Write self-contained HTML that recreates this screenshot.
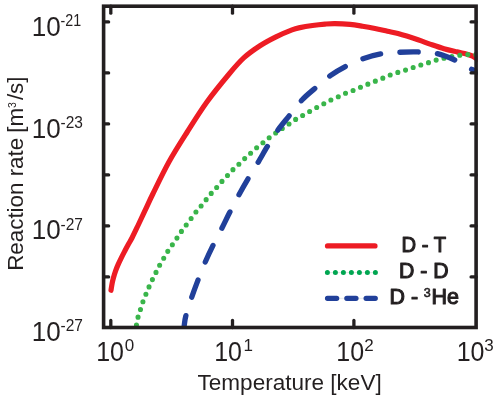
<!DOCTYPE html>
<html><head><meta charset="utf-8"><title>Reaction rate</title>
<style>html,body{margin:0;padding:0;background:#fff}body{width:498px;height:399px;overflow:hidden;font-family:"Liberation Sans",sans-serif}</style></head>
<body>
<svg width="498" height="399" viewBox="0 0 498 399" style="display:block;will-change:transform">
<rect width="100%" height="100%" fill="#fff"/>
<defs><clipPath id="c"><rect x="103.6" y="6.2" width="374.0" height="321.3"/></clipPath></defs>
<g clip-path="url(#c)" fill="none" stroke-linecap="round" stroke-linejoin="round">
<path d="M111.00 290.30 C111.20 289.08 111.77 285.18 112.20 283.00 C112.63 280.82 113.03 279.23 113.60 277.20 C114.17 275.17 114.85 272.90 115.60 270.80 C116.35 268.70 117.15 266.77 118.10 264.60 C119.05 262.43 120.18 260.07 121.30 257.80 C122.42 255.53 123.62 253.25 124.80 251.00 C125.98 248.75 127.17 246.55 128.40 244.30 C129.63 242.05 130.60 240.63 132.20 237.50 C133.80 234.37 135.83 230.05 138.00 225.50 C140.17 220.95 142.73 215.45 145.20 210.20 C147.67 204.95 148.85 202.03 152.80 194.00 C156.75 185.97 163.17 172.33 168.90 162.00 C174.63 151.67 180.87 142.00 187.20 132.00 C193.53 122.00 199.92 111.67 206.90 102.00 C213.88 92.33 222.92 81.38 229.10 74.00 C235.28 66.62 238.85 62.40 244.00 57.70 C249.15 53.00 254.67 49.27 260.00 45.80 C265.33 42.33 270.67 39.55 276.00 36.90 C281.33 34.25 288.00 31.45 292.00 29.90 C296.00 28.35 296.58 28.33 300.00 27.60 C303.42 26.87 308.33 26.08 312.50 25.50 C316.67 24.92 321.25 24.42 325.00 24.10 C328.75 23.78 330.83 23.55 335.00 23.60 C339.17 23.65 345.42 23.97 350.00 24.40 C354.58 24.83 358.33 25.52 362.50 26.20 C366.67 26.88 370.83 27.65 375.00 28.50 C379.17 29.35 383.67 30.45 387.50 31.30 C391.33 32.15 392.92 32.18 398.00 33.60 C403.08 35.02 412.67 38.05 418.00 39.80 C423.33 41.55 425.67 42.62 430.00 44.10 C434.33 45.58 439.50 47.40 444.00 48.70 C448.50 50.00 453.28 51.02 457.00 51.90 C460.72 52.78 463.97 53.40 466.30 54.00 C468.63 54.60 469.65 54.97 471.00 55.50 C472.35 56.03 473.23 56.53 474.40 57.20 C475.57 57.87 477.40 59.12 478.00 59.50" stroke="#ed1c24" stroke-width="5.2"/>
<path id="gr" d="M135.30 333.00 C135.52 331.52 136.12 326.85 136.60 324.10 C137.08 321.35 137.53 319.00 138.20 316.50 C138.87 314.00 139.77 311.68 140.60 309.10 C141.43 306.52 142.27 303.58 143.20 301.00 C144.13 298.42 145.18 296.05 146.20 293.60 C147.22 291.15 148.20 288.77 149.30 286.30 C150.40 283.83 151.63 281.22 152.80 278.80 C153.97 276.38 155.10 274.18 156.30 271.80 C157.50 269.42 158.72 266.83 160.00 264.50 C161.28 262.17 162.67 260.05 164.00 257.80 C165.33 255.55 166.58 253.22 168.00 251.00 C169.42 248.78 171.00 246.67 172.50 244.50 C174.00 242.33 175.50 240.20 177.00 238.00 C178.50 235.80 179.95 233.50 181.50 231.30 C183.05 229.10 184.67 226.97 186.30 224.80 C187.93 222.63 189.63 220.50 191.30 218.30 C192.97 216.10 194.63 213.70 196.30 211.60 C197.97 209.50 199.62 207.75 201.30 205.70 C202.98 203.65 204.72 201.38 206.40 199.30 C208.08 197.22 209.63 195.23 211.40 193.20 C213.17 191.17 215.15 189.17 217.00 187.10 C218.85 185.03 220.67 182.82 222.50 180.80 C224.33 178.78 226.20 176.92 228.00 175.00 C229.80 173.08 231.42 171.17 233.30 169.30 C235.18 167.43 237.35 165.63 239.30 163.80 C241.25 161.97 243.08 160.10 245.00 158.30 C246.92 156.50 248.80 154.80 250.80 153.00 C252.80 151.20 254.92 149.25 257.00 147.50 C259.08 145.75 261.22 144.17 263.30 142.50 C265.38 140.83 267.33 139.17 269.50 137.50 C271.67 135.83 274.13 134.03 276.30 132.50 C278.47 130.97 280.33 129.75 282.50 128.30 C284.67 126.85 287.08 125.30 289.30 123.80 C291.52 122.30 293.60 120.68 295.80 119.30 C298.00 117.92 300.22 116.80 302.50 115.50 C304.78 114.20 307.12 112.83 309.50 111.50 C311.88 110.17 314.42 108.78 316.80 107.50 C319.18 106.22 321.47 105.05 323.80 103.80 C326.13 102.55 328.38 101.17 330.80 100.00 C333.22 98.83 335.85 97.92 338.30 96.80 C340.75 95.68 343.05 94.35 345.50 93.30 C347.95 92.25 350.50 91.50 353.00 90.50 C355.50 89.50 358.08 88.33 360.50 87.30 C362.92 86.27 365.08 85.30 367.50 84.30 C369.92 83.30 372.50 82.30 375.00 81.30 C377.50 80.30 380.00 79.35 382.50 78.30 C385.00 77.25 387.50 75.97 390.00 75.00 C392.50 74.03 395.00 73.28 397.50 72.50 C400.00 71.72 402.50 71.10 405.00 70.30 C407.50 69.50 410.00 68.53 412.50 67.70 C415.00 66.87 417.47 66.10 420.00 65.30 C422.53 64.50 425.07 63.75 427.70 62.90 C430.33 62.05 433.12 60.98 435.80 60.20 C438.48 59.42 441.13 58.80 443.80 58.20 C446.47 57.60 449.13 57.10 451.80 56.60 C454.47 56.10 457.22 55.53 459.80 55.20 C462.38 54.87 464.78 54.70 467.30 54.60 C469.82 54.50 472.62 54.53 474.90 54.60 C477.18 54.67 479.98 54.93 481.00 55.00" stroke="#39b54a" stroke-width="5.1" stroke-dasharray="0 8.05"/>
<path id="bl" d="M183.60 330.00 C183.70 329.30 183.83 328.13 184.20 325.80 C184.57 323.47 184.60 320.60 185.80 316.00 C187.00 311.40 189.40 304.10 191.40 298.20 C193.40 292.30 195.53 286.53 197.80 280.60 C200.07 274.67 202.48 268.43 205.00 262.60 C207.52 256.77 210.07 251.37 212.90 245.60 C215.73 239.83 219.23 233.47 222.00 228.00 C224.77 222.53 226.70 218.30 229.50 212.80 C232.30 207.30 235.72 200.67 238.80 195.00 C241.88 189.33 244.80 184.22 248.00 178.80 C251.20 173.38 254.75 167.92 258.00 162.50 C261.25 157.08 264.33 151.50 267.50 146.30 C270.67 141.10 273.45 136.30 277.00 131.30 C280.55 126.30 284.63 121.52 288.80 116.30 C292.97 111.08 297.63 104.67 302.00 100.00 C306.37 95.33 310.28 92.37 315.00 88.30 C319.72 84.23 325.17 79.27 330.30 75.60 C335.43 71.93 340.43 69.10 345.80 66.30 C351.17 63.50 356.58 60.88 362.50 58.80 C368.42 56.72 375.25 54.88 381.30 53.80 C387.35 52.72 392.52 52.60 398.80 52.30 C405.08 52.00 412.60 51.78 419.00 52.00 C425.40 52.22 430.95 52.13 437.20 53.60 C443.45 55.07 450.72 58.17 456.50 60.80 C462.28 63.43 468.32 67.42 471.90 69.40 C475.48 71.38 476.98 72.15 478.00 72.70" stroke="#21409a" stroke-width="5.3" stroke-dasharray="18.3 19.35" stroke-dashoffset="3.7"/>
</g>
<g stroke="#231f20" fill="none" stroke-width="3.6">
<rect x="103.6" y="6.2" width="372.5" height="321.3"/>
</g>
<g stroke="#231f20" stroke-width="3.3" stroke-linecap="round">
<line x1="110.8" y1="6.2" x2="110.8" y2="13.2"/>
<line x1="110.8" y1="327.5" x2="110.8" y2="320.5"/>
<line x1="232.5" y1="6.2" x2="232.5" y2="13.2"/>
<line x1="232.5" y1="327.5" x2="232.5" y2="320.5"/>
<line x1="353.9" y1="6.2" x2="353.9" y2="13.2"/>
<line x1="353.9" y1="327.5" x2="353.9" y2="320.5"/>
<line x1="103.6" y1="21.9" x2="108.6" y2="21.9"/>
<line x1="476.1" y1="21.9" x2="471.1" y2="21.9"/>
<line x1="103.6" y1="72.9" x2="108.6" y2="72.9"/>
<line x1="476.1" y1="72.9" x2="471.1" y2="72.9"/>
<line x1="103.6" y1="123.9" x2="108.6" y2="123.9"/>
<line x1="476.1" y1="123.9" x2="471.1" y2="123.9"/>
<line x1="103.6" y1="174.9" x2="108.6" y2="174.9"/>
<line x1="476.1" y1="174.9" x2="471.1" y2="174.9"/>
<line x1="103.6" y1="225.9" x2="108.6" y2="225.9"/>
<line x1="476.1" y1="225.9" x2="471.1" y2="225.9"/>
<line x1="103.6" y1="276.9" x2="108.6" y2="276.9"/>
<line x1="476.1" y1="276.9" x2="471.1" y2="276.9"/>
</g>
<g font-family="Liberation Sans, sans-serif" fill="#231f20">
<text x="31.8" y="35.8" font-size="27.6" textLength="29" lengthAdjust="spacingAndGlyphs">10</text>
<text x="60.6" y="26.3" font-size="16.6" textLength="20.6" lengthAdjust="spacingAndGlyphs">-21</text>
<text x="31.8" y="137.6" font-size="27.6" textLength="29" lengthAdjust="spacingAndGlyphs">10</text>
<text x="60.6" y="128.1" font-size="16.6" textLength="22.4" lengthAdjust="spacingAndGlyphs">-23</text>
<text x="31.8" y="239.1" font-size="27.6" textLength="29" lengthAdjust="spacingAndGlyphs">10</text>
<text x="60.6" y="229.6" font-size="16.6" textLength="22.4" lengthAdjust="spacingAndGlyphs">-27</text>
<text x="31.8" y="340.8" font-size="27.6" textLength="29" lengthAdjust="spacingAndGlyphs">10</text>
<text x="60.6" y="331.3" font-size="16.6" textLength="22.4" lengthAdjust="spacingAndGlyphs">-27</text>
<text x="96.2" y="360.6" font-size="27.6" textLength="27.8" lengthAdjust="spacingAndGlyphs">10</text>
<text x="124.8" y="351" font-size="17">0</text>
<text x="214.2" y="360.6" font-size="27.6" textLength="27.8" lengthAdjust="spacingAndGlyphs">10</text>
<text x="243.6" y="351" font-size="17">1</text>
<text x="336.3" y="360.6" font-size="27.6" textLength="27.8" lengthAdjust="spacingAndGlyphs">10</text>
<text x="364.3" y="351" font-size="17">2</text>
<text x="456.7" y="360.6" font-size="27.6" textLength="27.8" lengthAdjust="spacingAndGlyphs">10</text>
<text x="484.3" y="351" font-size="17">3</text>
<text x="197.5" y="389.6" font-size="21.6" textLength="184.2" lengthAdjust="spacingAndGlyphs">Temperature [keV]</text>
<g transform="translate(23,270.8) rotate(-90)" font-size="21.6">
<text x="0" y="0" textLength="133" lengthAdjust="spacingAndGlyphs">Reaction rate</text>
<text x="138.1" y="0" textLength="25" lengthAdjust="spacingAndGlyphs">[m</text>
<text x="162.9" y="-6.8" font-size="10.5">3</text>
<text x="170.7" y="0" textLength="23.6" lengthAdjust="spacingAndGlyphs">/s]</text>
</g>
<g font-size="21.4" stroke="#231f20" stroke-width="1.1" stroke-linejoin="round">

<text x="401.5" y="251.7" textLength="44.5" lengthAdjust="spacingAndGlyphs">D - T</text>
<text x="399" y="277.9" textLength="49.5" lengthAdjust="spacingAndGlyphs">D - D</text>
<text x="389.5" y="304.1" textLength="28.5" lengthAdjust="spacingAndGlyphs">D -</text>
<text x="423.8" y="297.3" font-size="12.5" stroke-width="0.6">3</text>
<text x="431.5" y="304.1" textLength="27.5" lengthAdjust="spacingAndGlyphs">He</text>
</g>
</g>
<g fill="none" stroke-linecap="round">
<line x1="328" y1="272.6" x2="375" y2="272.6" stroke="#d4d8d6" stroke-width="0.6"/>
<line x1="328" y1="298.3" x2="375" y2="298.3" stroke="#d4d6dc" stroke-width="0.6"/>
<line x1="327.6" y1="245.9" x2="374.9" y2="245.9" stroke="#ed1c24" stroke-width="5.4"/>
<line x1="327.4" y1="272.6" x2="376" y2="272.6" stroke="#00a651" stroke-width="5" stroke-dasharray="0 8"/>
<line x1="327.5" y1="298.3" x2="375.4" y2="298.3" stroke="#21409a" stroke-width="5.2" stroke-dasharray="9.2 10.1"/>
</g>
</svg>
</body></html>
